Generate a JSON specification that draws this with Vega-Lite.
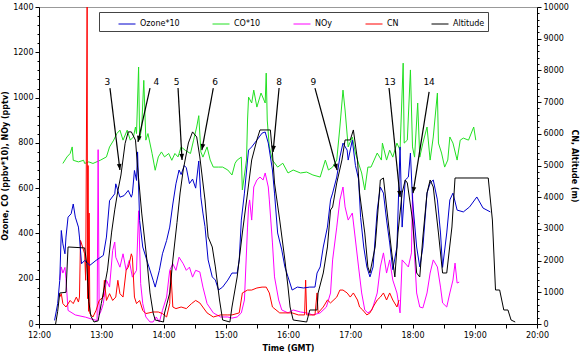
{
"$schema": "https://vega.github.io/schema/vega-lite/v6.json",
"width": 498, "height": 317,
"autosize": "none",
"padding": {"left": 39, "top": 7, "right": 43, "bottom": 33},
"background": "white",
"config": {
 "font": "DejaVu Sans",
 "view": {"stroke": "#999999"},
 "axis": {"labelFontSize": 8, "titleFontSize": 8, "titleFontWeight": "bold", "domainColor": "black", "tickColor": "black", "labelColor": "black", "titleColor": "black", "grid": false},
 "legend": {"orient": "none", "legendX": 60, "legendY": 5, "direction": "horizontal", "columns": 5, "symbolType": "stroke", "symbolSize": 289, "symbolStrokeWidth": 1, "labelFontSize": 8, "labelColor": "black", "strokeColor": "#444444", "fillColor": "white", "padding": 3, "columnPadding": 16, "symbolOffset": 16}
},
"datasets": {
 "O": [[735,16],[738,90],[740,193],[741.5,413],[743,354],[745,310],[746,384],[748,472],[751,487],[753,530],[755,472],[758,428],[759,384],[761,266],[764,281],[769,259],[775,281],[782,303],[785,384],[788,545],[793,575],[794,619],[798,560],[802,567],[806,590],[809,560],[810,575],[812,678],[814,634],[815,760],[817,457],[820,340],[825,266],[830,193],[832,163],[836,237],[839,310],[843,369],[846,428],[849,530],[852,619],[855,680],[857,660],[860,700],[862,690],[865,620],[868,640],[871,600],[874,720],[876,560],[878,490],[880,430],[883,283],[887,208],[890,194],[893,150],[897,163],[902,194],[906,225],[911,225],[913,283],[915,459],[918,578],[921,724],[922,768],[925,782],[930,812],[935,843],[938,848],[941,799],[945,680],[947,578],[950,402],[954,327],[957,252],[960,208],[964,150],[969,163],[975,159],[981,163],[986,163],[988,225],[991,252],[994,340],[998,428],[1001,548],[1003,578],[1007,649],[1010,737],[1013,799],[1017,768],[1018,724],[1022,812],[1025,700],[1028,640],[1030,470],[1033,340],[1036,252],[1039,208],[1042,252],[1046,503],[1049,605],[1052,578],[1055,459],[1058,358],[1061,240],[1065,340],[1068,782],[1070,428],[1073,636],[1076,649],[1078,755],[1080,548],[1084,340],[1087,252],[1090,340],[1094,578],[1097,623],[1100,636],[1104,548],[1107,402],[1109,250],[1113,402],[1116,548],[1119,578],[1123,503],[1129,495],[1135,517],[1142,561],[1148,512],[1155,495]],
 "C": [[743,709],[747,738],[750,753],[752,782],[753,723],[758,716],[763,723],[764,709],[768,716],[772,709],[779,723],[785,738],[788,782],[792,812],[795,841],[798,856],[801,812],[805,856],[808,812],[811,826],[813,870],[814,841],[816,1135],[817,812],[819,870],[821,1076],[823,812],[825,841],[829,753],[832,679],[835,738],[838,760],[841,738],[845,753],[848,723],[851,753],[854,738],[857,782],[861,767],[866,753],[869,812],[872,870],[874,920],[876,760],[878,737],[882,782],[885,724],[888,693],[893,693],[897,693],[902,680],[906,658],[909,710],[911,724],[915,737],[916,592],[920,724],[921,901],[922,1002],[925,976],[927,1033],[930,958],[934,1020],[938,976],[939,1108],[940,901],[942,782],[945,724],[950,693],[955,710],[960,667],[965,680],[972,667],[978,671],[984,658],[991,649],[996,724],[999,680],[1003,693],[1007,724],[1010,870],[1013,1033],[1015,945],[1018,782],[1022,826],[1025,755],[1027,724],[1031,667],[1034,592],[1037,693],[1040,693],[1043,724],[1046,755],[1050,724],[1051,799],[1055,724],[1058,768],[1061,737],[1065,799],[1068,768],[1071,1152],[1072,799],[1075,812],[1078,1122],[1080,782],[1082,737],[1085,976],[1087,737],[1090,799],[1094,870],[1097,724],[1100,826],[1104,1020],[1105,799],[1108,755],[1111,693],[1114,724],[1116,826],[1119,799],[1123,724],[1126,812],[1129,821],[1134,812],[1139,870],[1141,812]],
 "N": [[740,194],[741.5,252],[743,225],[745,250],[746,200],[748,60],[755,40],[765,30],[772,20],[776,15],[777,770],[778,40],[780,60],[782,90],[785,193],[788,163],[791,325],[793,362],[794,295],[798,251],[801,310],[804,237],[807,281],[810,207],[814,237],[816,500],[818,178],[820,90],[823,31],[827,9],[830,9],[833,31],[836,9],[839,60],[843,119],[846,237],[849,266],[852,237],[855,295],[859,266],[862,237],[865,251],[868,207],[871,237],[875,230],[878,163],[882,90],[888,49],[895,31],[902,31],[906,26],[911,31],[915,49],[918,106],[921,428],[922,517],[923,548],[925,459],[927,605],[930,636],[933,649],[936,636],[938,667],[941,605],[942,548],[945,358],[947,208],[951,106],[954,62],[960,49],[965,62],[972,53],[978,49],[984,40],[991,49],[997,75],[1001,137],[1003,283],[1007,428],[1010,548],[1013,605],[1015,517],[1018,459],[1022,490],[1025,371],[1028,252],[1031,137],[1034,62],[1037,49],[1041,62],[1046,137],[1049,252],[1052,314],[1055,225],[1058,283],[1061,194],[1065,137],[1068,49],[1070,283],[1076,252],[1079,314],[1080,578],[1082,300],[1084,137],[1087,75],[1090,71],[1094,137],[1097,225],[1100,283],[1104,252],[1107,163],[1109,93],[1113,75],[1116,137],[1119,194],[1121,269],[1123,181],[1125,185]],
 "R": [[740,850],[741.5,957],[743,643],[746,536],[750,743],[753,643],[756,850],[758,693],[759,850],[760,2636],[762,2429],[764,2214],[765,1379],[766.4,10000],[766.8,800],[767.3,5000],[767.8,400],[768.3,3500],[769,329],[772,221],[775,429],[778,743],[782,850],[783,1379],[785,743],[788,957],[791,743],[794,850],[796,1379],[798,957],[801,850],[804,1693],[806,1793],[807,1900],[809,2214],[810,2107],[812,850],[814,643],[817,743],[820,429],[823,329],[830,379],[835,379],[839,329],[843,221],[846,643],[847,1693],[849,536],[852,486],[857,536],[862,486],[867,643],[871,743],[875,664],[882,350],[888,221],[895,286],[902,286],[906,286],[913,350],[916,979],[921,1071],[925,1071],[930,1136],[935,1164],[939,1164],[942,979],[945,536],[952,350],[958,350],[964,350],[970,286],[976,286],[977,1386],[978,286],[986,286],[988,979],[989,350],[994,536],[998,757],[1001,664],[1007,850],[1010,1071],[1013,1071],[1017,979],[1020,850],[1023,979],[1027,757],[1029,536],[1032,443],[1036,286],[1039,350],[1042,536],[1046,757],[1049,850],[1052,979],[1055,757],[1058,979],[1061,757],[1065,536],[1067,757]],
 "A": [[736,0],[738,400],[740,978],[746,1000],[748,2430],[764,2400],[766,1900],[768,700],[770,250],[773,63],[777,100],[780,640],[783,1164],[786,1700],[790,2900],[793,3600],[796,4200],[799,4700],[803,5700],[806,6060],[809,6060],[813,5800],[815,4950],[819,3500],[824,2020],[827,980],[830,350],[832,126],[840,63],[841,347],[846,978],[849,2020],[853,3200],[856,4133],[859,4859],[864,5711],[868,6060],[872,5900],[875,5269],[880,3912],[883,2745],[887,2430],[890,1800],[894,757],[897,126],[904,63],[906,536],[911,1483],[916,2871],[921,4133],[925,5174],[930,5805],[933,6121],[943,6121],[945,5395],[947,4449],[952,3281],[957,2019],[960,1167],[962,536],[965,126],[978,63],[981,442],[988,442],[989,978],[994,1609],[998,2430],[1001,3597],[1003,3691],[1007,4449],[1012,5174],[1015,5805],[1020,5805],[1023,6121],[1027,5174],[1029,4133],[1034,2871],[1037,1798],[1039,1609],[1044,2430],[1049,4543],[1052,4606],[1055,3691],[1060,2240],[1063,1483],[1066,2871],[1070,4133],[1073,4543],[1075,4449],[1080,3281],[1084,1609],[1087,1483],[1090,2745],[1094,4133],[1097,4543],[1100,4322],[1105,2871],[1109,1609],[1113,1609],[1118,3060],[1121,4606],[1123,4606],[1153,4606],[1157,3281],[1160,1073],[1164,1073],[1168,442],[1172,442],[1175,126],[1179,63]],
 "ann": [
  {"n":"3","lt":786,"lv":1070,"t":788.4,"v":1042,"t2":798,"v2":680},
  {"n":"4","lt":833,"lv":1070,"t":827,"v":1042,"t2":815.4,"v2":804},
  {"n":"5","lt":852.7,"lv":1070,"t":854,"v":1042,"t2":857.9,"v2":724},
  {"n":"6","lt":889.7,"lv":1070,"t":888,"v":1042,"t2":877,"v2":768},
  {"n":"8","lt":951.4,"lv":1070,"t":951.4,"v":1042,"t2":945.6,"v2":760},
  {"n":"9","lt":984.4,"lv":1070,"t":986,"v":1042,"t2":1007.3,"v2":680},
  {"n":"13","lt":1058.4,"lv":1070,"t":1057.4,"v":1042,"t2":1068,"v2":561},
  {"n":"14","lt":1096,"lv":1070,"t":1096,"v":1025,"t2":1080.5,"v2":578}
 ]
},
"encoding": {
 "x": {"field": "t", "type": "quantitative", "scale": {"domain": [720, 1200], "nice": false, "zero": false},
  "axis": {"title": "Time (GMT)", "values": [720,750,780,810,840,870,900,930,960,990,1020,1050,1080,1110,1140,1170,1200], "labelExpr": "datum.value % 60 === 0 ? floor(datum.value/60) + ':00' : ''", "tickSize": 4, "labelPadding": 3, "titlePadding": 5, "labelFlush": false}}
},
"layer": [
 {"data": {"name": "C"}, "transform": [{"calculate": "datum[0]", "as": "t"}, {"calculate": "datum[1]", "as": "v"}],
  "mark": {"type": "line", "strokeWidth": 1, "clip": true},
  "encoding": {"y": {"field": "v", "type": "quantitative", "scale": {"domain": [0, 1400], "nice": false}, "axis": null},
   "color": {"datum": "CO*10", "type": "nominal", "title": null, "scale": {"domain": ["Ozone*10", "CO*10", "NOy", "CN", "Altitude"], "range": ["#0000cc", "#22e022", "#ff00ff", "#ff0000", "#000000"]}}}},
 {"data": {"name": "N"}, "transform": [{"calculate": "datum[0]", "as": "t"}, {"calculate": "datum[1]", "as": "v"}],
  "mark": {"type": "line", "strokeWidth": 1, "clip": true},
  "encoding": {"y": {"field": "v", "type": "quantitative", "scale": {"domain": [0, 1400], "nice": false}, "axis": null},
   "color": {"datum": "NOy", "type": "nominal", "title": null, "scale": {"domain": ["Ozone*10", "CO*10", "NOy", "CN", "Altitude"], "range": ["#0000cc", "#22e022", "#ff00ff", "#ff0000", "#000000"]}}}},
 {"data": {"name": "R"}, "transform": [{"calculate": "datum[0]", "as": "t"}, {"calculate": "datum[1]", "as": "v"}],
  "mark": {"type": "line", "strokeWidth": 1, "clip": true},
  "encoding": {"y": {"field": "v", "type": "quantitative", "scale": {"domain": [0, 10000], "nice": false}, "axis": null},
   "color": {"datum": "CN", "type": "nominal", "title": null, "scale": {"domain": ["Ozone*10", "CO*10", "NOy", "CN", "Altitude"], "range": ["#0000cc", "#22e022", "#ff00ff", "#ff0000", "#000000"]}}}},
 {"data": {"name": "O"}, "transform": [{"calculate": "datum[0]", "as": "t"}, {"calculate": "datum[1]", "as": "v"}],
  "mark": {"type": "line", "strokeWidth": 1, "clip": true},
  "encoding": {"y": {"field": "v", "type": "quantitative", "scale": {"domain": [0, 1400], "nice": false},
    "axis": {"title": "Ozone, CO (ppbv*10), NOy (pptv)", "values": [0,40,80,120,160,200,240,280,320,360,400,440,480,520,560,600,640,680,720,760,800,840,880,920,960,1000,1040,1080,1120,1160,1200,1240,1280,1320,1360,1400], "format": "d", "labelExpr": "datum.value % 200 === 0 ? datum.label : ''", "tickSize": {"condition": {"test": "datum.value % 200 === 0", "value": 4}, "value": 2}, "labelPadding": 2, "titlePadding": 3}},
   "color": {"datum": "Ozone*10", "type": "nominal", "title": null, "scale": {"domain": ["Ozone*10", "CO*10", "NOy", "CN", "Altitude"], "range": ["#0000cc", "#22e022", "#ff00ff", "#ff0000", "#000000"]}}}},
 {"data": {"name": "A"}, "transform": [{"calculate": "datum[0]", "as": "t"}, {"calculate": "datum[1]", "as": "v"}],
  "mark": {"type": "line", "strokeWidth": 1, "clip": true},
  "encoding": {"y": {"field": "v", "type": "quantitative", "scale": {"domain": [0, 10000], "nice": false},
    "axis": {"orient": "right", "title": "CN, Altitude (m)", "values": [0,200,400,600,800,1000,1200,1400,1600,1800,2000,2200,2400,2600,2800,3000,3200,3400,3600,3800,4000,4200,4400,4600,4800,5000,5200,5400,5600,5800,6000,6200,6400,6600,6800,7000,7200,7400,7600,7800,8000,8200,8400,8600,8800,9000,9200,9400,9600,9800,10000], "format": "d", "labelExpr": "datum.value % 1000 === 0 ? datum.label : ''", "tickSize": {"condition": {"test": "datum.value % 1000 === 0", "value": 4}, "value": 2}, "labelPadding": 2, "titlePadding": 1}},
   "color": {"datum": "Altitude", "type": "nominal", "title": null, "scale": {"domain": ["Ozone*10", "CO*10", "NOy", "CN", "Altitude"], "range": ["#0000cc", "#22e022", "#ff00ff", "#ff0000", "#000000"]}}}},
 {"data": {"name": "ann"},
  "mark": {"type": "rule", "color": "black", "strokeWidth": 1.2},
  "encoding": {"x2": {"field": "t2"},
   "y": {"field": "v", "type": "quantitative", "scale": {"domain": [0, 1400], "nice": false}, "axis": null}, "y2": {"field": "v2"}}},
 {"data": {"name": "ann"},
  "transform": [{"calculate": "atan2(-(datum.t2-datum.t)*1.0375, (datum.v-datum.v2)*0.22643)*180/PI", "as": "ang"}, {"calculate": "datum.t2", "as": "tt"}],
  "mark": {"type": "point", "shape": "M0,0L-0.38,-1L0.38,-1Z", "filled": true, "color": "black", "opacity": 1, "size": 150},
  "encoding": {"x": {"field": "tt", "type": "quantitative", "title": "Time (GMT)"},
   "y": {"field": "v2", "type": "quantitative", "scale": {"domain": [0, 1400], "nice": false}, "axis": null},
   "angle": {"field": "ang", "type": "quantitative", "scale": null}}},
 {"data": {"name": "ann"},
  "mark": {"type": "text", "fontSize": 9, "color": "black", "baseline": "middle", "align": "center"},
  "encoding": {"x": {"field": "lt", "type": "quantitative", "title": "Time (GMT)"},
   "y": {"field": "lv", "type": "quantitative", "scale": {"domain": [0, 1400], "nice": false}, "axis": null},
   "text": {"field": "n"}}}
],
"resolve": {"scale": {"y": "independent"}}
}
